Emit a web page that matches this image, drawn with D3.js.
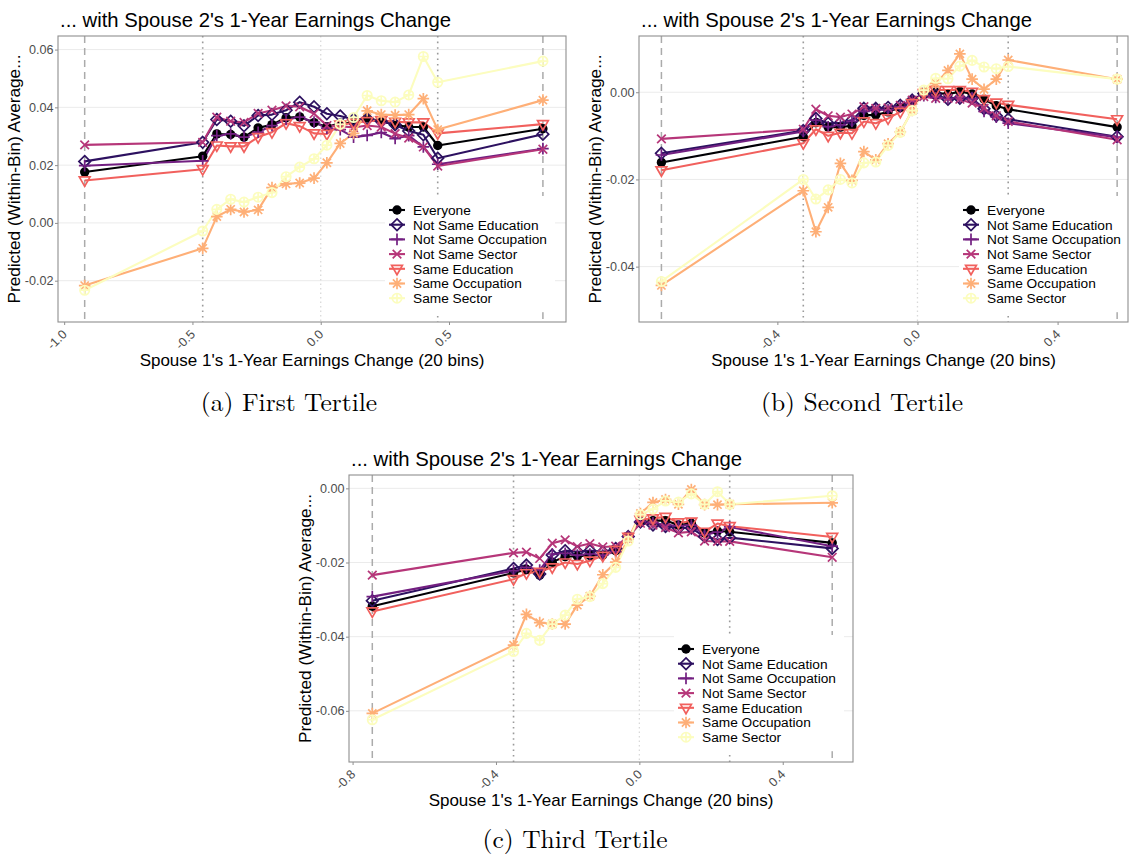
<!DOCTYPE html>
<html>
<head>
<meta charset="UTF-8">
<script src="https://cdn.jsdelivr.net/npm/d3@7"></script>
<style>
  body { margin: 0; background: #fff; }
  svg text { font-family: "Liberation Sans", Arial, Helvetica, sans-serif; }
</style>
</head>
<body>
<svg id="fig" width="1130" height="855"></svg>
<script>
// legend entries, in drawing order
var seriesNames = ["Everyone", "Not Same Education", "Not Same Occupation", "Not Same Sector",
                   "Same Education", "Same Occupation", "Same Sector"];
var seriesColors = ["#000004", "#2D1160", "#721F81", "#B63679", "#F1605D", "#FEAF77", "#FCFDBF"];
var seriesShapes = ["dot", "diamond", "plus", "cross", "triangle", "asterisk", "circleplus"];

// (a) first tertile
var binsA = [-0.92, -0.46, -0.405, -0.351, -0.299, -0.244, -0.19, -0.135, -0.082, -0.026,
             0.024, 0.076, 0.128, 0.181, 0.236, 0.29, 0.343, 0.4, 0.456, 0.866];
var aEveryone = [0.0176, 0.0231, 0.0308, 0.0306, 0.0297, 0.0329, 0.034, 0.0364, 0.0367, 0.0347,
                 0.0333, 0.0345, 0.0347, 0.0363, 0.0352, 0.034, 0.0332, 0.0332, 0.0268, 0.0326];
var aNotEdu = [0.0213, 0.0279, 0.0358, 0.0352, 0.0336, 0.0372, 0.0375, 0.039, 0.0418, 0.0402,
               0.0378, 0.037, 0.0358, 0.036, 0.0352, 0.034, 0.0318, 0.0305, 0.0224, 0.0307];
var aNotOcc = [0.0198, 0.0215, 0.0302, 0.0308, 0.0297, 0.0314, 0.0337, 0.0358, 0.0366, 0.0349,
               0.0328, 0.0323, 0.0297, 0.0303, 0.0313, 0.0292, 0.0302, 0.0263, 0.0203, 0.0257];
var aNotSec = [0.027, 0.0279, 0.0366, 0.0352, 0.0348, 0.0379, 0.039, 0.0405, 0.0402, 0.0378,
               0.0337, 0.0335, 0.033, 0.0337, 0.0332, 0.0309, 0.0294, 0.0263, 0.0197, 0.0255];
var aSameEdu = [0.0147, 0.0186, 0.0268, 0.0265, 0.0265, 0.0297, 0.0314, 0.0345, 0.0335, 0.031,
                0.0308, 0.034, 0.0346, 0.0352, 0.0355, 0.035, 0.0348, 0.0348, 0.031, 0.0342];
var aSameOcc = [-0.0217, -0.0088, 0.0022, 0.0047, 0.0038, 0.0045, 0.0122, 0.0135, 0.0138, 0.0155,
                0.0208, 0.0275, 0.031, 0.0388, 0.0375, 0.0373, 0.0375, 0.043, 0.0323, 0.0425];
var aSameSec = [-0.0233, -0.0028, 0.0047, 0.0082, 0.0072, 0.0089, 0.0105, 0.016, 0.0193, 0.0222,
                0.0269, 0.0341, 0.0365, 0.0441, 0.0423, 0.0418, 0.0443, 0.0576, 0.0487, 0.056];
var aXTicks = [-1.0, -0.5, 0.0, 0.5];
var aYTicks = [-0.02, 0.0, 0.02, 0.04, 0.06];

// (b) second tertile
var binsB = [-0.731, -0.326, -0.29, -0.255, -0.22, -0.187, -0.153, -0.119, -0.084, -0.049,
             -0.015, 0.018, 0.052, 0.087, 0.121, 0.156, 0.19, 0.225, 0.259, 0.57];
var bEveryone = [-0.0161, -0.0102, -0.007, -0.008, -0.008, -0.0077, -0.0053, -0.0052, -0.0045, -0.0035,
                 -0.0018, -0.0005, 0.0, -0.0005, 0.0002, -0.0004, -0.0016, -0.0031, -0.0039, -0.008];
var bNotEdu = [-0.014, -0.0088, -0.006, -0.0071, -0.007, -0.0064, -0.0037, -0.0037, -0.0035, -0.003,
               -0.0018, -0.0003, -0.0006, -0.0016, -0.0014, -0.0014, -0.0038, -0.0054, -0.0062, -0.0102];
var bNotOcc = [-0.0144, -0.009, -0.0064, -0.0079, -0.0075, -0.0067, -0.0044, -0.004, -0.004, -0.0033,
               -0.002, -0.0008, -0.0012, -0.0014, -0.0012, -0.0014, -0.0044, -0.0057, -0.0071, -0.0103];
var bNotSec = [-0.0107, -0.0085, -0.0039, -0.0054, -0.0057, -0.005, -0.0033, -0.0037, -0.0036, -0.003,
               -0.0018, -0.001, -0.0014, -0.0014, -0.0016, -0.0025, -0.0037, -0.0054, -0.0067, -0.0109];
var bSameEdu = [-0.0179, -0.0117, -0.0085, -0.01, -0.0093, -0.0094, -0.0067, -0.0071, -0.006, -0.0045,
                -0.0025, -0.0002, 0.0005, 0.0005, 0.0005, 0.0001, -0.0016, -0.0024, -0.0029, -0.0062];
var bSameOcc = [-0.0443, -0.0226, -0.032, -0.0264, -0.0163, -0.0202, -0.0136, -0.0155, -0.0118, -0.0091,
                -0.0042, 0.0003, 0.002, 0.005, 0.0088, 0.003, 0.0007, 0.003, 0.0074, 0.003];
var bSameSec = [-0.0434, -0.02, -0.0245, -0.0224, -0.02, -0.0208, -0.0162, -0.016, -0.0122, -0.0092,
                -0.0042, 0.0005, 0.0032, 0.0031, 0.006, 0.0073, 0.0058, 0.0054, 0.0059, 0.003];
var bXTicks = [-0.4, 0.0, 0.4];
var bYTicks = [-0.04, -0.02, 0.0];

// (c) third tertile
var binsC = [-0.745, -0.351, -0.315, -0.278, -0.243, -0.207, -0.173, -0.138, -0.102, -0.066,
             -0.031, 0.003, 0.038, 0.073, 0.109, 0.145, 0.182, 0.218, 0.252, 0.538];
var cEveryone = [-0.0318, -0.0228, -0.0219, -0.0234, -0.0199, -0.0184, -0.0183, -0.0181, -0.018, -0.0168,
                 -0.0131, -0.0092, -0.0087, -0.0087, -0.0099, -0.0094, -0.012, -0.0115, -0.0117, -0.0147];
var cNotEdu = [-0.0303, -0.0216, -0.0207, -0.0231, -0.018, -0.0168, -0.0171, -0.0168, -0.0172, -0.0162,
               -0.013, -0.0091, -0.0099, -0.0103, -0.0107, -0.0107, -0.013, -0.0138, -0.0133, -0.0162];
var cNotOcc = [-0.0292, -0.0222, -0.0213, -0.022, -0.0177, -0.0175, -0.018, -0.0177, -0.018, -0.0171,
               -0.013, -0.009, -0.0093, -0.0099, -0.0101, -0.0099, -0.0125, -0.0118, -0.0104, -0.0156];
var cNotSec = [-0.0234, -0.0174, -0.0172, -0.0189, -0.0148, -0.0139, -0.0157, -0.0149, -0.0158, -0.0156,
               -0.0131, -0.0094, -0.0099, -0.0106, -0.012, -0.0117, -0.0142, -0.0143, -0.0143, -0.0186];
var cSameEdu = [-0.0332, -0.0245, -0.0229, -0.0225, -0.0213, -0.02, -0.0204, -0.0195, -0.0182, -0.0166,
                -0.0131, -0.0085, -0.0081, -0.0077, -0.0092, -0.009, -0.0117, -0.0095, -0.0102, -0.0131];
var cSameOcc = [-0.0607, -0.0423, -0.034, -0.0362, -0.0366, -0.0366, -0.0315, -0.0291, -0.0233, -0.0199,
                -0.0137, -0.0068, -0.0038, -0.003, -0.0043, -0.0003, -0.0044, -0.0044, -0.0043, -0.0039];
var cSameSec = [-0.0624, -0.044, -0.0391, -0.041, -0.0366, -0.0342, -0.0299, -0.0292, -0.0257, -0.0213,
                -0.0142, -0.0071, -0.0056, -0.0034, -0.0037, -0.0015, -0.0043, -0.0009, -0.0043, -0.002];
var cXTicks = [-0.8, -0.4, 0.0, 0.4];
var cYTicks = [-0.06, -0.04, -0.02, 0.0];

var plotTitle = "... with Spouse 2's 1-Year Earnings Change";
var yTitle = "Predicted (Within-Bin) Average...";
var xTitle = "Spouse 1's 1-Year Earnings Change (20 bins)";

var panels = [
  { bins: binsA, values: [aEveryone, aNotEdu, aNotOcc, aNotSec, aSameEdu, aSameOcc, aSameSec],
    xTicks: aXTicks, yTicks: aYTicks, caption: "(a) First Tertile",
    box: { x0: 58, x1: 566, y0: 36, y1: 322 }, xDomain: [-1.024, 0.956], yDomain: [-0.0343, 0.0647],
    legend: { mx: 397, tx: 413, y: 210 }, captionPos: [289, 411] },
  { bins: binsB, values: [bEveryone, bNotEdu, bNotOcc, bNotSec, bSameEdu, bSameOcc, bSameSec],
    xTicks: bXTicks, yTicks: bYTicks, caption: "(b) Second Tertile",
    box: { x0: 639, x1: 1128, y0: 36, y1: 322 }, xDomain: [-0.795, 0.601], yDomain: [-0.0527, 0.0129],
    legend: { mx: 971, tx: 987, y: 210 }, captionPos: [862, 411] },
  { bins: binsC, values: [cEveryone, cNotEdu, cNotOcc, cNotSec, cSameEdu, cSameOcc, cSameSec],
    xTicks: cXTicks, yTicks: cYTicks, caption: "(c) Third Tertile",
    box: { x0: 349, x1: 853, y0: 475, y1: 762 }, xDomain: [-0.81, 0.596], yDomain: [-0.0738, 0.0036],
    legend: { mx: 686, tx: 702, y: 649 }, captionPos: [575, 848] }
];

var svg = d3.select("#fig");
svg.append("rect").attr("width", 1130).attr("height", 855).attr("fill", "#fff");

function addShape(g, shape, color) {
  var sw = 1.7;
  if (shape == "dot") {
    g.append("circle").attr("r", 4.7).attr("fill", color);
  } else if (shape == "circleplus") {
    g.append("circle").attr("r", 4.7).attr("fill", "none").attr("stroke", color).attr("stroke-width", sw);
    g.append("path").attr("d", "M-4.7,0H4.7M0,-4.7V4.7").attr("stroke", color).attr("stroke-width", sw);
  } else {
    var d = {
      diamond: "M0,-5.8L5.8,0L0,5.8L-5.8,0Z",
      plus: "M-5.8,0H5.8M0,-5.8V5.8",
      cross: "M-4.3,-4.3L4.3,4.3M-4.3,4.3L4.3,-4.3",
      triangle: "M-5.4,-3.5L5.4,-3.5L0,5.9Z",
      asterisk: "M-5.8,0H5.8M0,-5.8V5.8M-4.1,-4.1L4.1,4.1M-4.1,4.1L4.1,-4.1"
    }[shape];
    g.append("path").attr("d", d).attr("fill", "none").attr("stroke", color).attr("stroke-width", sw);
  }
}

function drawPanel(p) {
  var g = svg.append("g");
  var x = d3.scaleLinear().domain(p.xDomain).range([p.box.x0, p.box.x1]);
  var y = d3.scaleLinear().domain(p.yDomain).range([p.box.y1, p.box.y0]);

  // horizontal grid
  g.selectAll(".grid").data(p.yTicks).enter().append("line")
    .attr("x1", p.box.x0).attr("x2", p.box.x1)
    .attr("y1", function(d) { return y(d); }).attr("y2", function(d) { return y(d); })
    .attr("stroke", "#ebebeb").attr("stroke-width", 1);

  // reference lines: outer bins dashed, inner bins dotted, zero light dotted
  var n = p.bins.length;
  var outer = [p.bins[0], p.bins[n - 1]];
  var inner = [p.bins[1], p.bins[n - 2]];
  g.append("line").attr("x1", x(0)).attr("x2", x(0)).attr("y1", p.box.y0).attr("y2", p.box.y1)
    .attr("stroke", "#d9d9d9").attr("stroke-width", 1.3).attr("stroke-dasharray", "1.5,3");
  g.selectAll(".outer").data(outer).enter().append("line")
    .attr("x1", function(d) { return x(d); }).attr("x2", function(d) { return x(d); })
    .attr("y1", p.box.y0).attr("y2", p.box.y1)
    .attr("stroke", "#ababab").attr("stroke-width", 1.5).attr("stroke-dasharray", "7,5");
  g.selectAll(".inner").data(inner).enter().append("line")
    .attr("x1", function(d) { return x(d); }).attr("x2", function(d) { return x(d); })
    .attr("y1", p.box.y0).attr("y2", p.box.y1)
    .attr("stroke", "#9a9a9a").attr("stroke-width", 1.6).attr("stroke-dasharray", "1.6,4");

  var series = p.values.map(function(vals, i) {
    return { i: i, pts: vals.map(function(v, k) { return { x: p.bins[k], y: v }; }) };
  });

  var line = d3.line().x(function(d) { return x(d.x); }).y(function(d) { return y(d.y); });
  g.selectAll(".series").data(series).enter().append("path")
    .attr("d", function(s) { return line(s.pts); })
    .attr("fill", "none")
    .attr("stroke", function(s) { return seriesColors[s.i]; })
    .attr("stroke-width", 2.1)
    .attr("stroke-linejoin", "round");

  series.forEach(function(s) {
    g.append("g").selectAll("g").data(s.pts).enter().append("g")
      .attr("transform", function(d) { return "translate(" + x(d.x) + "," + y(d.y) + ")"; })
      .each(function() { addShape(d3.select(this), seriesShapes[s.i], seriesColors[s.i]); });
  });

  // legend
  var lg = g.append("g");
  var rowH = 14.7;
  lg.append("rect")
    .attr("x", p.legend.mx - 12).attr("y", p.legend.y - 14)
    .attr("width", 170).attr("height", rowH * 6 + 28)
    .attr("fill", "#fff");
  seriesNames.forEach(function(name, i) {
    var ry = p.legend.y + i * rowH;
    lg.append("line").attr("x1", p.legend.mx - 8).attr("x2", p.legend.mx + 8)
      .attr("y1", ry).attr("y2", ry)
      .attr("stroke", seriesColors[i]).attr("stroke-width", 2.1);
    addShape(lg.append("g").attr("transform", "translate(" + p.legend.mx + "," + ry + ")"),
             seriesShapes[i], seriesColors[i]);
    lg.append("text").attr("x", p.legend.tx).attr("y", ry + 4.8)
      .attr("font-size", 13.7).attr("fill", "#000").text(name);
  });

  // panel border
  g.append("rect").attr("x", p.box.x0).attr("y", p.box.y0)
    .attr("width", p.box.x1 - p.box.x0).attr("height", p.box.y1 - p.box.y0)
    .attr("fill", "none").attr("stroke", "#8f8f8f").attr("stroke-width", 1.1);

  // axes (labels use a plain hyphen for the minus sign)
  var ya = g.append("g").attr("transform", "translate(" + p.box.x0 + ",0)")
    .call(d3.axisLeft(y).tickValues(p.yTicks).tickSize(3).tickPadding(1.5)
      .tickFormat(function(d) { return (d < 0 ? "-" : "") + Math.abs(d).toFixed(2); }));
  var xa = g.append("g").attr("transform", "translate(0," + p.box.y1 + ")")
    .call(d3.axisBottom(x).tickValues(p.xTicks).tickSize(3).tickPadding(3)
      .tickFormat(function(d) { return (d < 0 ? "-" : "") + Math.abs(d).toFixed(1); }));
  [ya, xa].forEach(function(a) {
    a.select(".domain").remove();
    a.selectAll(".tick line").attr("stroke", "#8f8f8f");
    a.selectAll(".tick text").attr("fill", "#4d4d4d").attr("font-size", 12.6)
      .attr("font-family", "Liberation Sans, Arial, sans-serif");
  });
  xa.selectAll(".tick text")
    .attr("text-anchor", "end").attr("dy", null).attr("y", null)
    .attr("transform", "translate(3,13) rotate(-45)");

  // titles
  g.append("text").attr("x", p.box.x0 + 2).attr("y", p.box.y0 - 9)
    .attr("font-size", 20.3).attr("fill", "#000").text(plotTitle);
  var cy = (p.box.y0 + p.box.y1) / 2;
  g.append("text").attr("transform", "translate(" + (p.box.x0 - 44) + "," + cy + ") rotate(-90)")
    .attr("text-anchor", "middle").attr("dy", "0.35em")
    .attr("font-size", 17.2).attr("fill", "#000").text(yTitle);
  g.append("text").attr("x", (p.box.x0 + p.box.x1) / 2).attr("y", p.box.y1 + 44)
    .attr("text-anchor", "middle").attr("font-size", 17).attr("fill", "#000").text(xTitle);

  // caption
  svg.append("text").attr("x", p.captionPos[0]).attr("y", p.captionPos[1])
    .attr("text-anchor", "middle").attr("font-size", 25.5)
    .style("font-family", "'Latin Modern Roman', 'CMU Serif', 'Liberation Serif', serif")
    .attr("fill", "#000").text(p.caption);
}

panels.forEach(drawPanel);
</script>
</body>
</html>
